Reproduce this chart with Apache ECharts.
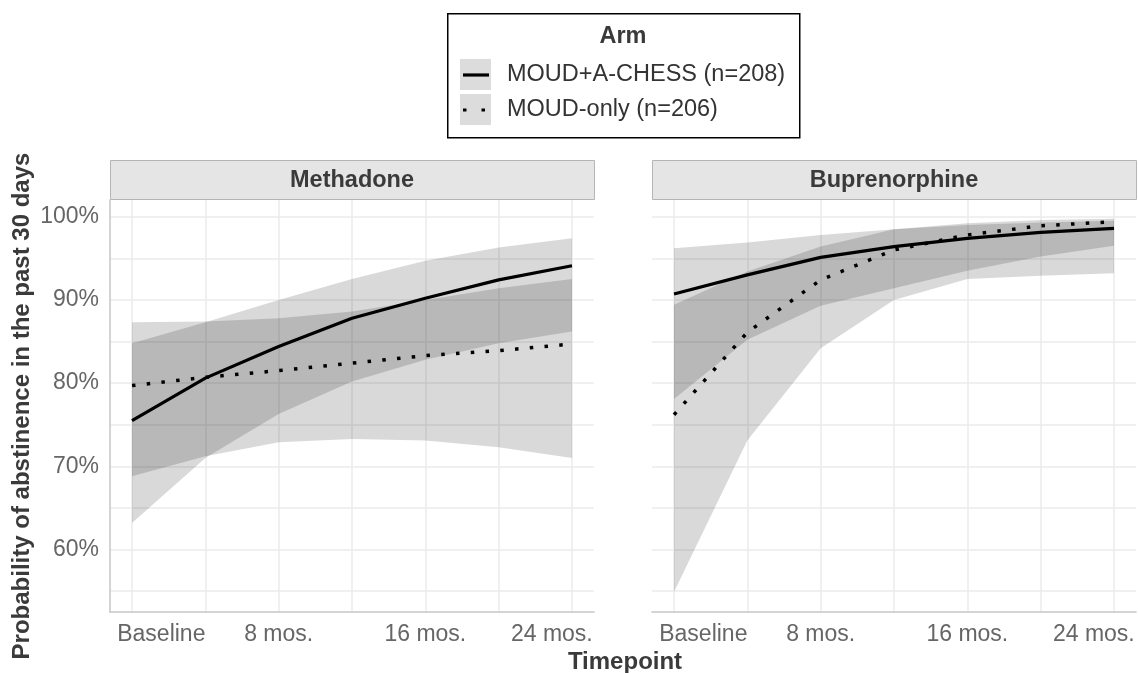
<!DOCTYPE html>
<html>
<head>
<meta charset="utf-8">
<script src="https://cdn.jsdelivr.net/npm/echarts@6.0.0/dist/echarts.min.js"></script>
<style>
html,body{margin:0;padding:0;background:#fff;}
#chart{width:1138px;height:673px;}
</style>
</head>
<body>
<div id="chart"></div>
<script>
// ---------- data ----------
const months = [0, 4, 8, 12, 16, 20, 24];
// tick label positions (as drawn in the reference: end labels pulled inside the panel)
const xLabelValues = [1.6, 8, 16, 22.9];
const xLabelTexts  = ['Baseline', '8 mos.', '16 mos.', '24 mos.'];
const yTickValues = [60, 70, 80, 90, 100];
const yGridValues = [55, 60, 65, 70, 75, 80, 85, 90, 95, 100];
const panels = ['Methadone', 'Buprenorphine'];
const armNames = ['MOUD+A-CHESS (n=208)', 'MOUD-only (n=206)'];

// Methadone
const metAchess   = [75.5, 80.6, 84.4, 87.8, 90.2, 92.4, 94.1];
const metAchessLo = [63.2, 71.0, 76.3, 80.2, 82.8, 84.8, 86.2];
const metAchessHi = [84.8, 87.3, 90.0, 92.5, 94.7, 96.3, 97.4];
const metOnly     = [79.7, 80.7, 81.5, 82.4, 83.3, 83.9, 84.7];
const metOnlyLo   = [68.8, 71.2, 72.9, 73.3, 73.1, 72.3, 71.0];
const metOnlyHi   = [87.3, 87.4, 87.8, 88.6, 90.0, 91.4, 92.5];

// Buprenorphine
const bupAchess   = [90.7, 93.0, 95.1, 96.4, 97.4, 98.1, 98.6];
const bupAchessLo = [78.1, 85.2, 89.3, 91.4, 93.5, 95.2, 96.5];
const bupAchessHi = [96.2, 96.9, 97.8, 98.5, 99.0, 99.3, 99.5];
const bupOnly     = [76.2, 86.1, 92.4, 96.0, 97.8, 98.9, 99.4];
const bupOnlyLo   = [54.9, 73.1, 84.2, 90.0, 92.5, 92.9, 93.2];
const bupOnlyHi   = [89.4, 93.4, 96.4, 98.5, 99.2, 99.6, 99.75];

// ---------- styling ----------
const FONT = '"Liberation Sans", Arial, sans-serif';
const RIBBON = 'rgba(0,0,0,0.15)';
const GRID_C = '#ebebeb';
const AXIS_C = '#c6c6c6';
const TICK_C = '#666666';
const TITLE_C = '#3a3a3a';

const gridBox = [
  {left: 110, top: 200, width: 484, height: 412},
  {left: 652, top: 200, width: 484, height: 412}
];

function ribbonRender(lo, hi) {
  return function (params, api) {
    if (params.dataIndex !== 0) return;
    const pts = [];
    for (let i = 0; i < months.length; i++) pts.push(api.coord([months[i], hi[i]]));
    for (let i = months.length - 1; i >= 0; i--) pts.push(api.coord([months[i], lo[i]]));
    return {type: 'polygon', shape: {points: pts}, style: {fill: RIBBON, stroke: null}, silent: true};
  };
}

function pairs(vals) { return months.map((m, i) => [m, vals[i]]); }

function xLabel(v) {
  const k = xLabelValues.findIndex(t => Math.abs(t - v) < 1e-6);
  return k >= 0 ? xLabelTexts[k] : '';
}

const xAxes = [0, 1].map(i => ({
  type: 'value', gridIndex: i, min: -1.2, max: 25.2,
  axisLine: {show: true, onZero: false, lineStyle: {color: AXIS_C, width: 1.5}},
  axisTick: {show: false, customValues: months},
  axisLabel: {
    customValues: xLabelValues, margin: 11, hideOverlap: false,
    showMinLabel: true, showMaxLabel: true,
    formatter: xLabel,
    color: TICK_C, fontSize: 23, fontFamily: FONT
  },
  splitLine: {show: true, lineStyle: {color: GRID_C, width: 1.5}}
}));

const yAxes = [0, 1].map(i => ({
  type: 'value', gridIndex: i, min: 52.5, max: 102,
  axisLine: {show: i === 0, onZero: false, lineStyle: {color: AXIS_C, width: 1.5}},
  axisTick: {show: false, customValues: yGridValues},
  axisLabel: {
    show: i === 0, customValues: yTickValues, margin: 11,
    formatter: v => v + '%',
    color: TICK_C, fontSize: 23, fontFamily: FONT
  },
  splitLine: {show: true, lineStyle: {color: GRID_C, width: 1.5}}
}));

const panelData = [
  {a: metAchess, aLo: metAchessLo, aHi: metAchessHi, o: metOnly, oLo: metOnlyLo, oHi: metOnlyHi},
  {a: bupAchess, aLo: bupAchessLo, aHi: bupAchessHi, o: bupOnly, oLo: bupOnlyLo, oHi: bupOnlyHi}
];

const series = [];
panelData.forEach((p, i) => {
  series.push({
    type: 'custom', name: armNames[0] + ' CI', xAxisIndex: i, yAxisIndex: i,
    data: months.map((m, k) => [m, p.aLo[k], p.aHi[k]]), encode: {x: 0, y: [1, 2]},
    renderItem: ribbonRender(p.aLo, p.aHi), z: 1
  });
  series.push({
    type: 'custom', name: armNames[1] + ' CI', xAxisIndex: i, yAxisIndex: i,
    data: months.map((m, k) => [m, p.oLo[k], p.oHi[k]]), encode: {x: 0, y: [1, 2]},
    renderItem: ribbonRender(p.oLo, p.oHi), z: 1
  });
  series.push({
    type: 'line', name: armNames[0], xAxisIndex: i, yAxisIndex: i, data: pairs(p.a),
    showSymbol: false, symbol: 'none', z: 3, silent: true,
    lineStyle: {color: '#000', width: 3.2, cap: 'butt', join: 'round'}
  });
  series.push({
    type: 'line', name: armNames[1], xAxisIndex: i, yAxisIndex: i, data: pairs(p.o),
    showSymbol: false, symbol: 'none', z: 3, silent: true,
    lineStyle: {color: '#000', width: 3.5, type: [3.5, 11.3], cap: 'butt'}
  });
});

const graphics = [];
// facet strips
gridBox.forEach((g, i) => {
  graphics.push({
    type: 'rect', left: g.left, top: 160,
    shape: {width: g.width, height: 39},
    style: {fill: '#e5e5e5', stroke: '#b5b5b5', lineWidth: 1}
  });
  graphics.push({
    type: 'text', x: g.left + g.width / 2, y: 181,
    style: {text: panels[i], font: 'bold 23.5px ' + FONT, fill: TITLE_C, align: 'center', verticalAlign: 'middle'}
  });
});
// axis titles
graphics.push({
  type: 'text', x: 625, y: 662,
  style: {text: 'Timepoint', font: 'bold 24px ' + FONT, fill: TITLE_C, align: 'center', verticalAlign: 'middle'}
});
graphics.push({
  type: 'text', x: 22, y: 406, rotation: Math.PI / 2,
  style: {text: 'Probability of abstinence in the past 30 days', font: 'bold 24px ' + FONT, fill: TITLE_C, align: 'center', verticalAlign: 'middle'}
});
// legend
graphics.push({
  type: 'rect', left: 447, top: 13, shape: {width: 352, height: 124},
  style: {fill: '#fff', stroke: '#000', lineWidth: 1.5}
});
graphics.push({
  type: 'text', x: 623, y: 37,
  style: {text: 'Arm', font: 'bold 23.5px ' + FONT, fill: TITLE_C, align: 'center', verticalAlign: 'middle'}
});
[75, 110].forEach((cy, k) => {
  graphics.push({type: 'rect', left: 460, top: cy - 16, shape: {width: 31, height: 31}, style: {fill: '#dcdcdc'}});
  graphics.push({
    type: 'polyline', shape: {points: [[463, cy], [489, cy]]},
    style: {stroke: '#000', lineWidth: 3.2, lineDash: k === 0 ? null : [3.5, 15], fill: null}
  });
  graphics.push({
    type: 'text', x: 507, y: cy,
    style: {text: armNames[k], font: '23.5px ' + FONT, fill: '#333', align: 'left', verticalAlign: 'middle'}
  });
});

const chart = echarts.init(document.getElementById('chart'), null, {renderer: 'canvas'});
chart.setOption({
  animation: false,
  backgroundColor: '#fff',
  textStyle: {fontFamily: FONT},
  grid: gridBox.map(g => Object.assign({containLabel: false, outerBoundsMode: 'none'}, g)),
  xAxis: xAxes,
  yAxis: yAxes,
  series: series,
  graphic: graphics
});
</script>
</body>
</html>
